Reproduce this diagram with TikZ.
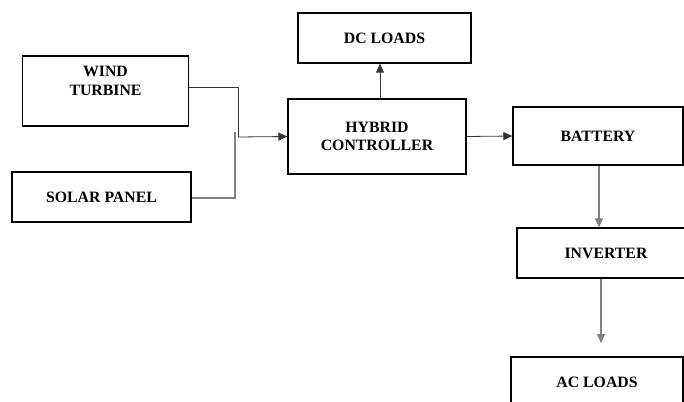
\documentclass[tikz,border=0pt]{standalone}
\usepackage{fontspec}
\setmainfont{Liberation Serif}
\usetikzlibrary{arrows.meta}

\tikzset{
    blk/.style={draw, line width=1.3pt, inner sep=0pt, align=center,
        font=\fontsize{15.8}{18.5}\selectfont\bfseries},
    wire/.style={line width=0.8pt, black!80},
    bus/.style={line width=1.2pt, black!50},
    arr/.style={-{Triangle[length=9pt, width=8pt]}}
}

\begin{document}
\begin{tikzpicture}[x=1pt, y=-1pt]
    \useasboundingbox (0,0) rectangle (684,401);
    \clip (0,0) rectangle (684,401);

    % Sources
    \node[blk, minimum width=166pt, minimum height=70pt, text depth=20pt] (wind) at (105.5,91) {WIND\\TURBINE};
    \node[blk, minimum width=179pt, minimum height=50pt] (solar) at (101.5,197) {SOLAR PANEL};

    % Controleur et charges
    \node[blk, minimum width=178pt, minimum height=75pt] (hybrid) at (377,136.5) {HYBRID\\CONTROLLER};
    \node[blk, minimum width=173pt, minimum height=50pt] (dcl) at (384.5,38) {DC LOADS};
    \node[blk, minimum width=170pt, minimum height=58pt] (battery) at (598,136) {BATTERY};
    \node[blk, minimum width=178pt, minimum height=50pt] (inverter) at (606,253) {INVERTER};
    \node[blk, minimum width=172pt, minimum height=50pt] (acl) at (597,382) {AC LOADS};

    % Points de jonction
    \coordinate (jw) at (238,137);
    \coordinate (jb) at (235,132);
    \coordinate (acin) at (601,343);

    % Liaisons
    \draw[wire] ([yshift=4pt]wind.east) -| (jw);
    \draw[bus] ([yshift=-1pt]solar.east) -| (jb);
    \draw[wire, arr] (jw) -- (hybrid.west);
    \draw[wire, arr] ([xshift=3pt]hybrid.north) -- ([xshift=3pt]hybrid.north |- dcl.south);
    \draw[wire, arr] (hybrid.east) -- (battery.west);
    \draw[bus, arr] ([xshift=1pt]battery.south) -- ([xshift=1pt]battery.south |- inverter.north);
    \draw[bus, arr] (inverter.south -| acin) -- (acin);
\end{tikzpicture}
\end{document}
